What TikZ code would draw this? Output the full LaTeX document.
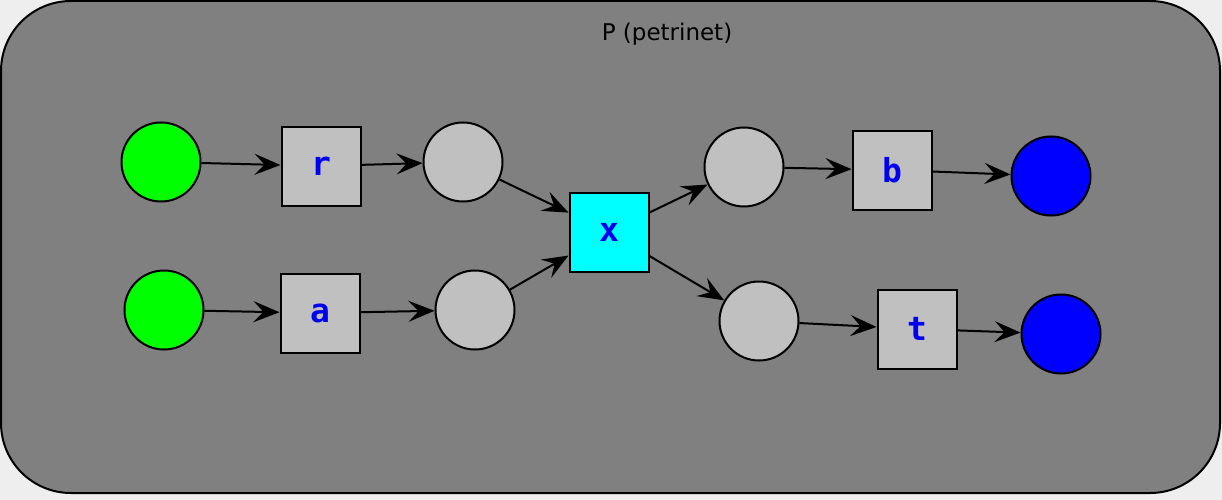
\documentclass[tikz,border=0pt]{standalone}
\usepackage{fontspec}
\setmainfont{DejaVu Sans}
\newfontfamily\lblfont{DejaVu Sans Mono}
\usetikzlibrary{arrows.meta}
\definecolor{bgout}{HTML}{EEEEEE}
\definecolor{panel}{HTML}{808080}
\definecolor{placegray}{HTML}{C0C0C0}
\definecolor{labelblue}{HTML}{0000F0}
\definecolor{green1}{HTML}{00FF00}
\definecolor{cyan1}{HTML}{00FFFF}
\definecolor{blue1}{HTML}{0000FF}
\tikzset{
  place/.style={circle,draw=black,line width=2pt,minimum size=79pt,inner sep=0pt,fill=placegray},
  trans/.style={rectangle,draw=black,line width=2pt,minimum size=79pt,inner sep=0pt,fill=placegray,
    font=\lblfont\bfseries\fontsize{33}{35}\selectfont,text=labelblue},
  arc/.style={line width=2pt,-{Stealth[length=26pt,width=21pt,inset=10pt]}},
}
\begin{document}
\begin{tikzpicture}[x=1pt,y=-1pt]
\fill[bgout] (0,0) rectangle (1222,500);
\useasboundingbox (0,0) rectangle (1222,500);
\draw[line width=2pt,fill=panel,rounded corners=70pt] (1,1) rectangle (1220,493);
\node[font=\fontsize{23}{27}\selectfont] (title) at (667,34) {P (petrinet)};

\node[place,fill=green1] (g1) at (161,162) {};
\node[place,fill=green1] (g2) at (164,310) {};
\node[place] (p1) at (463,162) {};
\node[place] (p2) at (475,310) {};
\node[place] (p3) at (744,167) {};
\node[place] (p4) at (759,321) {};
\node[place,fill=blue1] (e1) at (1051,176) {};
\node[place,fill=blue1] (e2) at (1061,334) {};

\node[trans] (r) at (321,166) {r};
\node[trans] (a) at (320,313) {a};
\node[trans,fill=cyan1] (x) at (609,232) {x};
\node[trans] (b) at (892,170) {b};
\node[trans] (t) at (917,329) {t};

\draw[arc] (g1) -- (r);
\draw[arc] (r) -- (p1);
\draw[arc] (g2) -- (a);
\draw[arc] (a) -- (p2);
\draw[arc] (p1) -- (x);
\draw[arc] (p2) -- (x);
\draw[arc] (x) -- (p3);
\draw[arc] (x) -- (p4);
\draw[arc] (p3) -- (b);
\draw[arc] (b) -- (e1);
\draw[arc] (p4) -- (t);
\draw[arc] (t) -- (e2);
\end{tikzpicture}
\end{document}
